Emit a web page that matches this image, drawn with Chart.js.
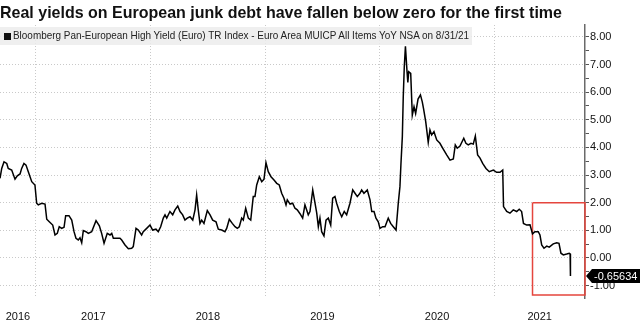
<!DOCTYPE html>
<html>
<head>
<meta charset="utf-8">
<script src="https://cdn.jsdelivr.net/npm/chart.js@4.4.1/dist/chart.umd.min.js"></script>
<style>
  html, body { margin: 0; padding: 0; width: 640px; height: 320px; overflow: hidden; background: #fff; }
  #wrap { position: relative; width: 640px; height: 320px; }
  canvas { position: absolute; left: 0; top: 0; }
  #title { position: absolute; left: 0; top: 3px; font: bold 17px "Liberation Sans", Arial, sans-serif; color: #111; white-space: nowrap; transform-origin: 0 0; }
  #legend { position: absolute; left: 0; top: 27px; width: 472px; height: 18px; background: rgba(236, 236, 236, 0.85); }
  #legend .sq { position: absolute; left: 4px; top: 6px; width: 7px; height: 7px; background: #111; }
  #legend .txt { position: absolute; left: 13px; top: 2px; font: 11px "Liberation Sans", Arial, sans-serif; color: #222; white-space: nowrap; transform-origin: 0 0; }
</style>
</head>
<body>
<div id="wrap">
  <canvas id="chart" width="640" height="320"></canvas>
  <div id="title">Real yields on European junk debt have fallen below zero for the first time</div>
  <div id="legend"><span class="sq"></span><span class="txt" id="legendText">Bloomberg Pan-European High Yield (Euro) TR Index - Euro Area MUICP All Items YoY NSA on 8/31/21</span></div>
</div>
<script>
const $ = (id) => document.getElementById(id);

// dates as decimal years, real yield in %
const dates = [
  2016.686, 2016.701, 2016.721, 2016.745, 2016.758, 2016.788, 2016.817, 2016.837, 2016.861, 2016.875, 2016.895, 2016.913, 2016.933, 2016.963, 2016.991,
  2017.006, 2017.020, 2017.050, 2017.079, 2017.094, 2017.116, 2017.146, 2017.166, 2017.186, 2017.203, 2017.224, 2017.245, 2017.259, 2017.288, 2017.312,
  2017.332, 2017.349, 2017.369, 2017.384, 2017.399, 2017.413, 2017.436, 2017.457, 2017.486, 2017.524, 2017.553, 2017.573, 2017.594, 2017.622, 2017.646,
  2017.661, 2017.675, 2017.704, 2017.733, 2017.748, 2017.777, 2017.806, 2017.835, 2017.849, 2017.873, 2017.893, 2017.922, 2017.936, 2017.966, 2017.995,
  2018.018, 2018.047, 2018.067, 2018.088, 2018.111, 2018.126, 2018.141, 2018.169, 2018.193, 2018.213, 2018.237, 2018.257, 2018.280, 2018.300, 2018.320,
  2018.344, 2018.368, 2018.388, 2018.402, 2018.416, 2018.431, 2018.446, 2018.466, 2018.495, 2018.519, 2018.542, 2018.571, 2018.591, 2018.621, 2018.649,
  2018.664, 2018.687, 2018.713, 2018.737, 2018.757, 2018.774, 2018.795, 2018.809, 2018.830, 2018.853, 2018.874, 2018.896, 2018.911, 2018.926, 2018.949, 2018.970, 2018.990,
  2019.007, 2019.027, 2019.051, 2019.077, 2019.101, 2019.123, 2019.144, 2019.164, 2019.182, 2019.193, 2019.217, 2019.240, 2019.260, 2019.280, 2019.304,
  2019.327, 2019.347, 2019.376, 2019.391, 2019.415, 2019.435, 2019.450, 2019.464, 2019.478, 2019.493, 2019.513, 2019.531, 2019.551, 2019.572, 2019.589,
  2019.609, 2019.624, 2019.647, 2019.668, 2019.690, 2019.711, 2019.740, 2019.764, 2019.784, 2019.804, 2019.827, 2019.842, 2019.862, 2019.891, 2019.915,
  2019.930, 2019.950, 2019.967, 2019.987, 2020.002, 2020.026, 2020.046, 2020.074, 2020.095, 2020.118, 2020.142, 2020.162, 2020.176, 2020.185, 2020.197,
  2020.205, 2020.214, 2020.224, 2020.238, 2020.245, 2020.253, 2020.270, 2020.284, 2020.299, 2020.313, 2020.334, 2020.355, 2020.371, 2020.382, 2020.401,
  2020.423, 2020.438, 2020.453, 2020.473, 2020.497, 2020.525, 2020.554, 2020.584, 2020.613, 2020.642, 2020.659, 2020.676, 2020.700, 2020.733, 2020.752,
  2020.772, 2020.796, 2020.816, 2020.834, 2020.854, 2020.875, 2020.898, 2020.927, 2020.956, 2020.991, 2021.020, 2021.049, 2021.073, 2021.080, 2021.108,
  2021.136, 2021.165, 2021.195, 2021.217, 2021.238, 2021.254, 2021.282, 2021.311, 2021.333, 2021.354, 2021.383, 2021.398, 2021.413, 2021.433, 2021.457,
  2021.479, 2021.514, 2021.544, 2021.564, 2021.581, 2021.602, 2021.631, 2021.654, 2021.661, 2021.664,
];
const realYield = [
  2.88, 3.24, 3.48, 3.42, 3.24, 3.18, 2.85, 2.97, 3.04, 3.24, 3.42, 3.36, 3.12, 2.76, 2.64,
  1.98, 1.92, 1.98, 1.95, 1.40, 1.31, 1.19, 0.83, 0.89, 1.13, 1.07, 1.11, 1.53, 1.53, 1.37,
  0.95, 0.71, 0.65, 0.73, 0.55, 0.99, 0.95, 0.89, 0.95, 1.35, 1.16, 0.89, 0.53, 0.89, 0.83,
  0.89, 0.71, 0.71, 0.71, 0.65, 0.47, 0.33, 0.35, 0.41, 1.07, 1.01, 0.83, 0.95, 1.07, 1.19,
  1.01, 1.04, 0.95, 1.13, 1.44, 1.56, 1.44, 1.68, 1.56, 1.74, 1.88, 1.68, 1.56, 1.37, 1.44,
  1.49, 1.37, 1.74, 2.28, 1.74, 1.25, 1.37, 1.25, 1.71, 1.56, 1.37, 1.31, 1.04, 1.01, 0.95,
  1.07, 1.40, 1.25, 1.13, 1.07, 1.13, 1.44, 1.37, 1.80, 1.44, 1.37, 2.22, 2.22, 2.64, 2.94, 2.76, 2.85,
  3.45, 3.12, 2.94, 2.82, 2.70, 2.64, 2.34, 2.16, 1.92, 2.10, 1.95, 1.98, 1.80, 1.74, 1.60,
  1.44, 1.92, 1.56, 1.68, 2.46, 1.98, 1.62, 1.13, 1.44, 0.95, 0.80, 1.37, 1.44, 1.19, 2.16,
  2.22, 1.98, 1.68, 1.49, 1.68, 1.56, 1.98, 2.46, 2.34, 2.22, 2.34, 2.46, 2.34, 2.46, 2.10,
  1.68, 1.68, 1.44, 1.31, 1.07, 1.13, 1.13, 1.44, 1.25, 1.13, 1.01, 2.00, 2.58, 3.42, 4.39,
  5.83, 6.92, 7.66, 6.74, 6.35, 6.74, 6.68, 5.17, 5.47, 5.23, 5.75, 5.90, 5.65, 5.40, 4.93,
  4.18, 4.63, 4.45, 4.57, 4.27, 4.15, 3.94, 3.73, 3.54, 3.58, 4.09, 3.97, 4.05, 4.33, 4.15,
  4.09, 4.15, 4.12, 4.41, 3.73, 3.61, 3.42, 3.24, 3.12, 3.18, 3.10, 3.10, 3.18, 1.86, 1.68,
  1.62, 1.74, 1.68, 1.76, 1.68, 1.25, 1.19, 1.20, 0.87, 0.95, 0.95, 0.83, 0.47, 0.35, 0.43,
  0.39, 0.51, 0.55, 0.53, 0.17, 0.11, 0.14, 0.17, 0.15, -0.65634,
];

const yearStarts = [2017, 2018, 2019, 2020, 2021];
const yearLabels = ["2016", "2017", "2018", "2019", "2020", "2021"];
const yTicks = [-1, 0, 1, 2, 3, 4, 5, 6, 7, 8];
const xRange = [2016.686, 2021.791];
const yRange = [-1.45, 8.43];

// red highlight box (date range, value range)
const boxDates = [2021.333, 2021.791];
const boxValues = [-1.34, 2.0];

// year labels sit in the middle of the visible part of each year
const labelPos = yearLabels.map((y) => {
  const lo = Math.max(+y, xRange[0]);
  const hi = Math.min(+y + 1, xRange[1]);
  return (lo + hi) / 2;
});
const xTickValues = [...yearStarts, ...labelPos].sort((a, b) => a - b);
const yTickValues = [];
yTicks.forEach((v) => {
  yTickValues.push(v);
  if (v < yTicks.at(-1)) yTickValues.push(v + 0.5);
});

const FONT = '"Liberation Sans", Arial, sans-serif';

const lastBadge = {
  id: "lastBadge",
  afterDraw(chart) {
    const { ctx, chartArea, scales } = chart;
    const last = realYield.at(-1);
    const y = Math.round(scales.y.getPixelForValue(last));
    const x = chartArea.right + 1;
    ctx.save();
    ctx.fillStyle = "#000";
    ctx.beginPath();
    ctx.moveTo(x, y);
    ctx.lineTo(x + 6, y - 7);
    ctx.lineTo(chart.width, y - 7);
    ctx.lineTo(chart.width, y + 7);
    ctx.lineTo(x + 6, y + 7);
    ctx.closePath();
    ctx.fill();
    ctx.fillStyle = "#fff";
    ctx.font = "11px " + FONT;
    ctx.textBaseline = "middle";
    ctx.fillText(last.toFixed(5), x + 8, y + 0.5);
    ctx.restore();
  },
};

function fitWidth(el, target) {
  const w = el.getBoundingClientRect().width;
  if (w) el.style.transform = `scaleX(${target / w})`;
}

function init() {
  fitWidth($("title"), 562);
  fitWidth($("legendText"), 456);

  const series = dates.map((d, i) => ({ x: d, y: realYield[i] }));
  const box = [
    { x: boxDates[0], y: boxValues[1] },
    { x: boxDates[1], y: boxValues[1] },
    { x: boxDates[1], y: boxValues[0] },
    { x: boxDates[0], y: boxValues[0] },
    { x: boxDates[0], y: boxValues[1] },
  ];

  new Chart($("chart").getContext("2d"), {
    type: "scatter",
    data: {
      datasets: [
        {
          data: series,
          showLine: true,
          borderColor: "#000",
          borderWidth: 1.5,
          pointRadius: 0,
          tension: 0,
        },
        {
          data: box,
          showLine: true,
          borderColor: "#e5453d",
          borderWidth: 1.5,
          pointRadius: 0,
          tension: 0,
          clip: false,
        },
      ],
    },
    options: {
      responsive: false,
      animation: false,
      layout: { padding: { top: 25, left: 0, right: 0, bottom: 0 } },
      plugins: { legend: { display: false }, tooltip: { enabled: false } },
      scales: {
        x: {
          type: "linear",
          position: "bottom",
          min: xRange[0],
          max: xRange[1],
          afterFit: (s) => {
            s.height = 22;
            s.paddingLeft = 0;
            s.paddingRight = 0;
          },
          afterBuildTicks: (s) => { s.ticks = xTickValues.map((v) => ({ value: v })); },
          grid: {
            color: (c) => (c.tick && yearStarts.includes(c.tick.value) ? "#c9c9c9" : "rgba(0,0,0,0)"),
            drawTicks: false,
            lineWidth: 1,
          },
          border: { display: false, dash: [1, 2] },
          ticks: {
            autoSkip: false,
            maxRotation: 0,
            padding: 12,
            color: "#111",
            font: { family: FONT, size: 11 },
            callback: (v) => {
              const i = labelPos.indexOf(v);
              return i >= 0 ? yearLabels[i] : "";
            },
          },
        },
        y: {
          type: "linear",
          position: "right",
          min: yRange[0],
          max: yRange[1],
          afterFit: (s) => { s.width = 55; },
          afterBuildTicks: (s) => { s.ticks = yTickValues.map((v) => ({ value: v })); },
          grid: {
            color: (c) => (c.tick && Number.isInteger(c.tick.value) ? "#c9c9c9" : "rgba(0,0,0,0)"),
            tickColor: "#555",
            tickLength: 4,
            lineWidth: 1,
          },
          border: { display: true, color: "#6a6a6a", width: 1.5, dash: [1, 2] },
          ticks: {
            autoSkip: false,
            padding: 1,
            color: "#111",
            font: { family: FONT, size: 11 },
            callback: (v) => (Number.isInteger(v) ? v.toFixed(2) : ""),
          },
        },
      },
    },
    plugins: [lastBadge],
  });
}

window.addEventListener("DOMContentLoaded", init);
</script>
</body>
</html>
